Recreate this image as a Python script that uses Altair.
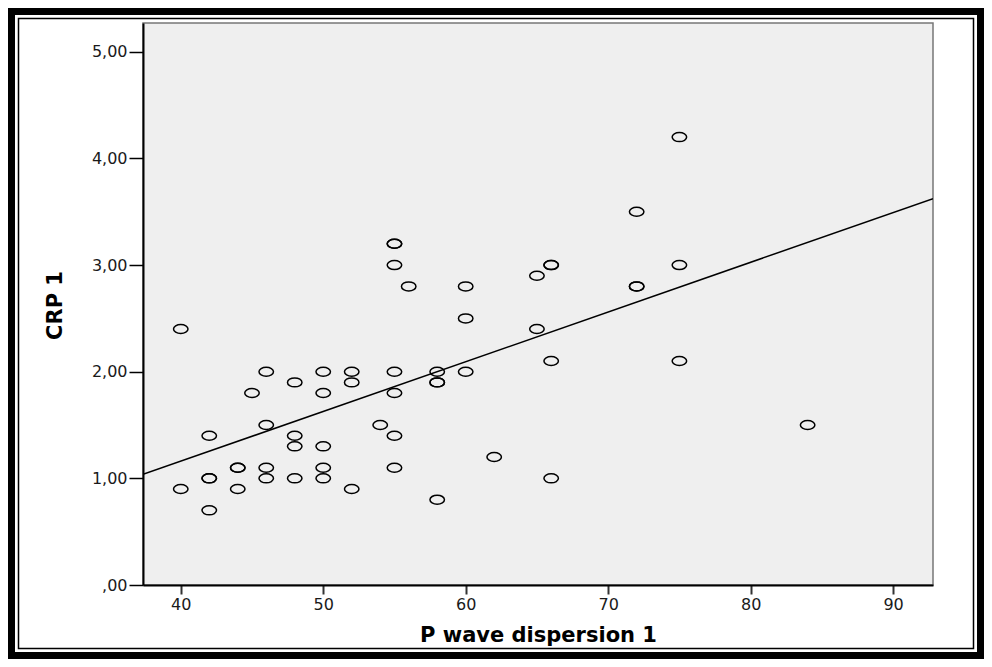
import altair as alt
import pandas as pd

# Data
pwd = [40, 40,
       42, 42, 42, 42,
       44, 44, 44,
       45,
       46, 46, 46, 46,
       48, 48, 48, 48,
       50, 50, 50, 50, 50,
       52, 52, 52,
       54,
       55, 55, 55, 55, 55, 55, 55,
       56,
       58, 58, 58, 58,
       60, 60, 60,
       62,
       65, 65,
       66, 66, 66, 66,
       72, 72, 72,
       75, 75, 75,
       84]
crp = [2.4, 0.9,
       1.4, 1.0, 1.0, 0.7,
       1.1, 1.1, 0.9,
       1.8,
       2.0, 1.5, 1.1, 1.0,
       1.9, 1.4, 1.3, 1.0,
       2.0, 1.8, 1.3, 1.1, 1.0,
       2.0, 1.9, 0.9,
       1.5,
       3.2, 3.2, 3.0, 2.0, 1.8, 1.4, 1.1,
       2.8,
       2.0, 1.9, 1.9, 0.8,
       2.8, 2.5, 2.0,
       1.2,
       2.9, 2.4,
       3.0, 3.0, 2.1, 1.0,
       3.5, 2.8, 2.8,
       4.2, 3.0, 2.1,
       1.5]

x_ticks = [40, 50, 60, 70, 80, 90]
y_ticks = [0, 1, 2, 3, 4, 5]
x_domain = [37.35, 92.8]
y_domain = [0, 5.27]

df = pd.DataFrame({"pwd": pwd, "crp": crp})

FONT = "DejaVu Sans"
W, H = 790, 562

xscale = alt.Scale(domain=x_domain, nice=False, zero=False)
yscale = alt.Scale(domain=y_domain, nice=False, zero=False)

xaxis = alt.Axis(
    title="P wave dispersion 1", values=x_ticks, grid=False,
    domainColor="black", domainWidth=2,
    tickColor="#333333", tickWidth=2, tickSize=9,
    labelFont=FONT, labelFontSize=16, labelColor="#1a1a1a", labelPadding=2,
    titleFont=FONT, titleFontSize=21, titleFontWeight="bold", titleColor="black",
    titleX=W / 2, titleY=56, titleAlign="center", titleBaseline="alphabetic",
)
yaxis = alt.Axis(
    title="CRP 1", values=y_ticks, grid=False,
    domainColor="black", domainWidth=2,
    tickColor="black", tickWidth=1.5, tickSize=14,
    labelFont=FONT, labelFontSize=16, labelColor="#1a1a1a", labelPadding=2,
    labelExpr="datum.value == 0 ? ',00' : replace(format(datum.value, '.2f'), '.', ',')",
    titleFont=FONT, titleFontSize=21, titleFontWeight="bold", titleColor="black",
    titleX=-88, titleY=H / 2 + 1, titleAngle=-90, titleAlign="center", titleBaseline="middle",
)

ellipse = "M-1,0A1,0.62,0,1,1,1,0A1,0.62,0,1,1,-1,0Z"

points = alt.Chart(df).mark_point(
    shape=ellipse, size=210, filled=False, color="black", strokeWidth=1.5, opacity=1
).encode(
    x=alt.X("pwd:Q", scale=xscale, axis=xaxis),
    y=alt.Y("crp:Q", scale=yscale, axis=yaxis),
)

fit = alt.Chart(df).transform_regression(
    "pwd", "crp", extent=x_domain
).mark_line(color="black", strokeWidth=1.5, clip=True).encode(
    x=alt.X("pwd:Q", scale=xscale),
    y=alt.Y("crp:Q", scale=yscale),
)

# decorative double frame around the whole figure (pixel positions relative to plot area)
one = pd.DataFrame({"k": [0]})
outer = alt.Chart(one).mark_rect(
    fill=None, stroke="black", strokeWidth=7, clip=False
).encode(
    x=alt.value(-131.5), x2=alt.value(837.5), y=alt.value(-11.5), y2=alt.value(632.5)
)
inner = alt.Chart(one).mark_rect(
    fill=None, stroke="black", strokeWidth=1.5, clip=False
).encode(
    x=alt.value(-124.5), x2=alt.value(830.5), y=alt.value(-4.5), y2=alt.value(625.5)
)

chart = alt.layer(outer, inner, fit, points).properties(
    width=W, height=H,
    padding={"left": 135, "top": 15, "right": 51, "bottom": 74},
    autosize=alt.AutoSizeParams(type="none"),
    background="white",
).configure_view(
    fill="#EFEFEF", stroke="#777777", strokeWidth=1.5
)

chart.save("out.html", embed_options={"renderer": "svg", "actions": False})
